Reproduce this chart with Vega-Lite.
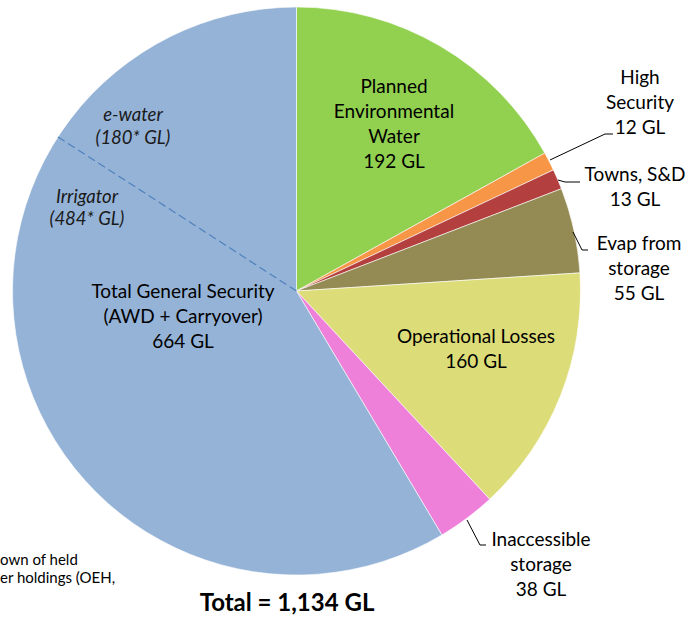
{
  "$schema": "https://vega.github.io/schema/vega-lite/v6.json",
  "width": 686,
  "height": 621,
  "padding": 0,
  "autosize": {"type": "none"},
  "background": "white",
  "config": {"view": {"stroke": null}},
  "datasets": {
    "slices": [
      {"name": "Planned Environmental Water", "value": 192, "rank": 1},
      {"name": "High Security", "value": 12, "rank": 2},
      {"name": "Towns, S&D", "value": 13, "rank": 3},
      {"name": "Evap from storage", "value": 55, "rank": 4},
      {"name": "Operational Losses", "value": 160, "rank": 5},
      {"name": "Inaccessible storage", "value": 38, "rank": 6},
      {"name": "Total General Security", "value": 664, "rank": 7}
    ],
    "labels": [
      {"text": "Planned\nEnvironmental\nWater\n192 GL", "x": 0.3433, "y": 0.7183, "kind": "normal"},
      {"text": "High\nSecurity\n12 GL", "x": 1.2095, "y": 0.75, "kind": "normal"},
      {"text": "Towns, S&D\n13 GL", "x": 1.1919, "y": 0.4085, "kind": "normal"},
      {"text": "Evap from\nstorage\n55 GL", "x": 1.206, "y": 0.1655, "kind": "normal"},
      {"text": "Operational Losses\n160 GL", "x": 0.632, "y": -0.162, "kind": "normal"},
      {"text": "Inaccessible\nstorage\n38 GL", "x": 0.8609, "y": -0.8768, "kind": "normal"},
      {"text": "Total General Security\n(AWD + Carryover)\n664 GL", "x": -0.3996, "y": -0.0035, "kind": "normal"},
      {"text": "e-water\n(180* GL)", "x": -0.5757, "y": 0.6197, "kind": "italic"},
      {"text": "Irrigator\n(484* GL)", "x": -0.7377, "y": 0.331, "kind": "italic"},
      {"text": "Total = 1,134 GL", "x": -0.0335, "y": -1.1021, "kind": "bold"},
      {"text": "own of held\ner holdings (OEH,", "x": -1.044, "y": -0.9472, "kind": "note"}
    ],
    "leaders": [
      {"g": "High", "s": 1, "x": 0.8926, "y": 0.4613},
      {"g": "High", "s": 2, "x": 1.0863, "y": 0.5528},
      {"g": "High", "s": 3, "x": 1.1144, "y": 0.5528},
      {"g": "Towns", "s": 1, "x": 0.9208, "y": 0.3908},
      {"g": "Towns", "s": 2, "x": 0.9454, "y": 0.3838},
      {"g": "Towns", "s": 3, "x": 0.9982, "y": 0.3838},
      {"g": "Evap", "s": 1, "x": 0.9736, "y": 0.2077},
      {"g": "Evap", "s": 2, "x": 1.0053, "y": 0.1444},
      {"g": "Evap", "s": 3, "x": 1.0264, "y": 0.1444},
      {"g": "Inacc", "s": 1, "x": 0.6004, "y": -0.8063},
      {"g": "Inacc", "s": 2, "x": 0.6461, "y": -0.8944},
      {"g": "Inacc", "s": 3, "x": 0.6673, "y": -0.8944}
    ],
    "split": [
      {"x": 0, "y": 0, "x2": -0.8398, "y2": 0.5423}
    ]
  },
  "layer": [
    {
      "data": {"name": "slices"},
      "mark": {"type": "arc", "outerRadius": 284, "stroke": "white", "strokeWidth": 0.6},
      "encoding": {
        "x": {"datum": 0, "type": "quantitative", "scale": {"domain": [-1.04401, 1.37148], "nice": false, "zero": false}, "axis": null},
        "y": {"datum": 0, "type": "quantitative", "scale": {"domain": [-1.16197, 1.02465], "nice": false, "zero": false}, "axis": null},
        "theta": {"field": "value", "type": "quantitative", "stack": true},
        "order": {"field": "rank", "type": "quantitative"},
        "color": {
          "field": "name", "type": "nominal", "legend": null,
          "scale": {
            "domain": ["Planned Environmental Water", "High Security", "Towns, S&D", "Evap from storage", "Operational Losses", "Inaccessible storage", "Total General Security"],
            "range": ["#92D050", "#F79646", "#B3403F", "#948A54", "#DCDC78", "#EE80DA", "#95B3D7"]
          }
        }
      }
    },
    {
      "data": {"name": "split"},
      "mark": {"type": "rule", "stroke": "#4F81BD", "strokeWidth": 1.2, "strokeDash": [8, 4]},
      "encoding": {
        "x": {"field": "x", "type": "quantitative"},
        "y": {"field": "y", "type": "quantitative"},
        "x2": {"field": "x2"},
        "y2": {"field": "y2"}
      }
    },
    {
      "data": {"name": "leaders"},
      "mark": {"type": "line", "stroke": "black", "strokeWidth": 1},
      "encoding": {
        "x": {"field": "x", "type": "quantitative"},
        "y": {"field": "y", "type": "quantitative"},
        "detail": {"field": "g"},
        "order": {"field": "s", "type": "quantitative"}
      }
    },
    {
      "data": {"name": "labels"},
      "transform": [{"filter": "datum.kind == 'normal'"}],
      "mark": {"type": "text", "font": "Lato", "fontSize": 19, "lineHeight": 25, "lineBreak": "\n", "align": "center", "baseline": "middle", "color": "black"},
      "encoding": {
        "x": {"field": "x", "type": "quantitative"},
        "y": {"field": "y", "type": "quantitative"},
        "text": {"field": "text"}
      }
    },
    {
      "data": {"name": "labels"},
      "transform": [{"filter": "datum.kind == 'italic'"}],
      "mark": {"type": "text", "font": "Lato", "fontSize": 18.5, "fontStyle": "italic", "lineHeight": 22.5, "lineBreak": "\n", "align": "center", "baseline": "middle", "color": "#1a1a1a"},
      "encoding": {
        "x": {"field": "x", "type": "quantitative"},
        "y": {"field": "y", "type": "quantitative"},
        "text": {"field": "text"}
      }
    },
    {
      "data": {"name": "labels"},
      "transform": [{"filter": "datum.kind == 'bold'"}],
      "mark": {"type": "text", "font": "Lato", "fontSize": 24, "fontWeight": "bold", "align": "center", "baseline": "middle", "color": "black"},
      "encoding": {
        "x": {"field": "x", "type": "quantitative"},
        "y": {"field": "y", "type": "quantitative"},
        "text": {"field": "text"}
      }
    },
    {
      "data": {"name": "labels"},
      "transform": [{"filter": "datum.kind == 'note'"}],
      "mark": {"type": "text", "font": "Lato", "fontSize": 15, "lineHeight": 18, "lineBreak": "\n", "align": "left", "baseline": "middle", "color": "black"},
      "encoding": {
        "x": {"field": "x", "type": "quantitative"},
        "y": {"field": "y", "type": "quantitative"},
        "text": {"field": "text"}
      }
    }
  ]
}
